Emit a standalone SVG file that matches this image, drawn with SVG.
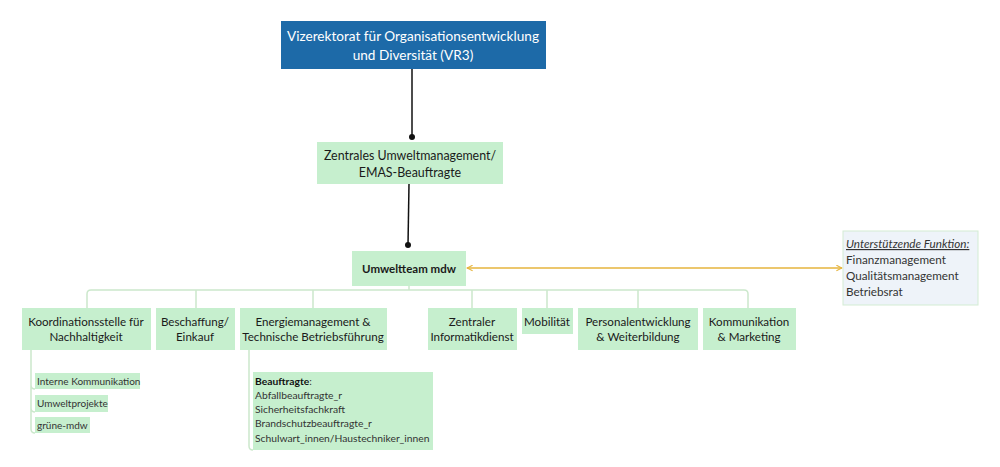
<svg xmlns="http://www.w3.org/2000/svg" width="1000" height="467" viewBox="0 0 1000 467">
<defs>
<style>
text{font-family:Lato,"Liberation Sans","DejaVu Sans",sans-serif;fill:#1a1a1a}
.g{fill:#c6efce}
.tc{text-anchor:middle;font-size:11.6px}
.sub{font-size:10px;fill:#333}
.bt{font-size:10.3px;fill:#333}
.bus{fill:none;stroke:#cce8cc;stroke-width:1.5}
.blk{stroke:#111;stroke-width:1.5}
.rt{font-size:11.7px;fill:#333}
</style>
<marker id="ah" viewBox="0 0 10 10" refX="9" refY="5" markerWidth="7" markerHeight="7" orient="auto-start-reverse" markerUnits="userSpaceOnUse">
<path d="M1 1 L9 5 L1 9" fill="none" stroke="#e6b43c" stroke-width="1.5"/>
</marker>
</defs>
<rect width="1000" height="467" fill="#fff"/>
<g id="connectors">
<line class="blk" x1="412" y1="69" x2="412" y2="137"/>
<circle cx="412" cy="137" r="3" fill="#111"/>
<line class="blk" x1="409" y1="184" x2="408" y2="245"/>
<circle cx="408" cy="245" r="3" fill="#111"/>
<line x1="842" y1="268" x2="467" y2="268" stroke="#e6b43c" stroke-width="1.5" marker-start="url(#ah)" marker-end="url(#ah)"/>
<path class="bus" d="M409 286 V290 M87 308 V294 Q87 290 91 290 H744 Q748 290 748 294 V308 M196 290 V308 M313 290 V308 M472 290 V308 M547 290 V308 M638 290 V308"/>
<path class="bus" d="M31 350 V385 Q31 389 35 389 M31 385 V408 Q31 412 35 412 M31 408 V429 Q31 433 35 433"/>
<path class="bus" d="M249 350 V446 Q249 450 253 450"/>
</g>
<g id="vr3">
<rect x="281" y="21" width="265" height="48" fill="#1d6aa8"/>
<text x="413" y="41" text-anchor="middle" font-size="13.6" style="fill:#fff">Vizerektorat für Organisationsentwicklung</text>
<text x="413" y="60" text-anchor="middle" font-size="13.6" style="fill:#fff">und Diversität (VR3)</text>
</g>
<g id="emas">
<rect class="g" x="317" y="142" width="186" height="42"/>
<text x="410" y="160" text-anchor="middle" font-size="12.4">Zentrales Umweltmanagement/</text>
<text x="410" y="177" text-anchor="middle" font-size="12.4">EMAS-Beauftragte</text>
</g>
<g id="umweltteam">
<rect class="g" x="352" y="251" width="114" height="35"/>
<text x="409" y="273" text-anchor="middle" font-size="11.5" font-weight="bold">Umweltteam mdw</text>
</g>
<g id="unterstuetzend">
<rect x="843" y="231" width="135" height="74" fill="#eef3f9" stroke="#d3ecd3" stroke-width="1"/>
<text class="rt" x="846" y="248" font-style="italic" text-decoration="underline">Unterstützende Funktion:</text>
<text class="rt" x="846" y="264">Finanzmanagement</text>
<text class="rt" x="846" y="280">Qualitätsmanagement</text>
<text class="rt" x="846" y="296">Betriebsrat</text>
</g>
<g id="koordination">
<rect class="g" x="22" y="308" width="129" height="42"/>
<text class="tc" x="86" y="326">Koordinationsstelle für</text>
<text class="tc" x="86" y="341">Nachhaltigkeit</text>
</g>
<g id="beschaffung">
<rect class="g" x="156" y="308" width="79" height="42"/>
<text class="tc" x="195" y="326">Beschaffung/</text>
<text class="tc" x="195" y="341">Einkauf</text>
</g>
<g id="energie">
<rect class="g" x="240" y="308" width="147" height="42"/>
<text class="tc" x="313" y="326">Energiemanagement &amp;</text>
<text class="tc" x="313" y="341">Technische Betriebsführung</text>
</g>
<g id="zid">
<rect class="g" x="428" y="308" width="89" height="42"/>
<text class="tc" x="472" y="326">Zentraler</text>
<text class="tc" x="472" y="341">Informatikdienst</text>
</g>
<g id="mobilitaet">
<rect class="g" x="522" y="308" width="51" height="26"/>
<text class="tc" x="547" y="326">Mobilität</text>
</g>
<g id="personal">
<rect class="g" x="578" y="308" width="120" height="42"/>
<text class="tc" x="638" y="326">Personalentwicklung</text>
<text class="tc" x="638" y="341">&amp; Weiterbildung</text>
</g>
<g id="kommunikation">
<rect class="g" x="703" y="308" width="93" height="42"/>
<text class="tc" x="749" y="326">Kommunikation</text>
<text class="tc" x="749" y="341">&amp; Marketing</text>
</g>
<g id="interne">
<rect class="g" x="35" y="373" width="105" height="16"/>
<text class="sub" x="37" y="385">Interne Kommunikation</text>
</g>
<g id="umweltprojekte">
<rect class="g" x="35" y="395" width="73" height="17"/>
<text class="sub" x="37" y="407">Umweltprojekte</text>
</g>
<g id="gruene">
<rect class="g" x="35" y="417" width="55" height="16"/>
<text class="sub" x="37" y="429">grüne-mdw</text>
</g>
<g id="beauftragte">
<rect class="g" x="253" y="372" width="180" height="78"/>
<text class="bt" x="255" y="385"><tspan font-weight="bold" style="fill:#111">Beauftragte</tspan>:</text>
<text class="bt" x="255" y="399">Abfallbeauftragte_r</text>
<text class="bt" x="255" y="413">Sicherheitsfachkraft</text>
<text class="bt" x="255" y="427">Brandschutzbeauftragte_r</text>
<text class="bt" x="255" y="442">Schulwart_innen/Haustechniker_innen</text>
</g>
</svg>
